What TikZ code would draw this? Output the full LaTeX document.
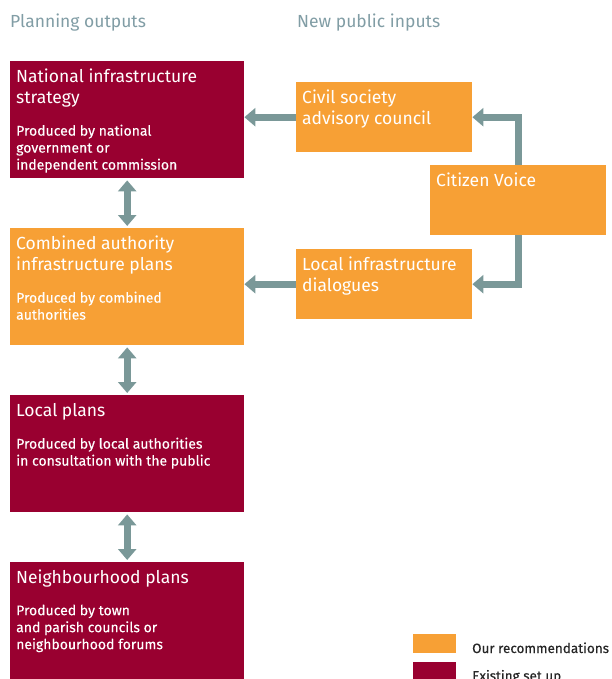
\documentclass[tikz,border=0pt]{standalone}
\usepackage{fontspec}
\setmainfont{Fira Sans}
\usepackage{xcolor}
\usetikzlibrary{arrows.meta}

\definecolor{plumred}{HTML}{990030}
\definecolor{recorange}{HTML}{F7A035}
\definecolor{linkgray}{HTML}{7A9898}
\definecolor{headgray}{HTML}{819DA5}

\tikzset{
  bigbox/.style={anchor=north west, minimum width=234pt, minimum height=117pt, inner sep=0pt},
  smallbox/.style={anchor=north west, fill=recorange, minimum width=176pt, minimum height=70pt, inner sep=0pt},
  boxtitle/.style={anchor=north west, inner sep=0pt, align=left, text=white, font=\fontsize{17.5}{20.5}\selectfont},
  boxsub/.style={anchor=north west, inner sep=0pt, align=left, text=white, font=\fontsize{14}{17}\selectfont\addfontfeature{FakeBold=0.2}},
  heading/.style={anchor=base west, inner sep=0pt, text=headgray, font=\fontsize{17.5}{20}\selectfont},
  legendtext/.style={anchor=base west, inner sep=0pt, text=black!85, font=\fontsize{13.5}{15}\selectfont\addfontfeature{FakeBold=0.3}},
  link/.style={draw=linkgray, line width=7pt, line join=miter, -{Triangle[width=18pt,length=11pt]}},
  twoway/.style={draw=linkgray, line width=7pt, {Triangle[width=18pt,length=11pt]}-{Triangle[width=18pt,length=11pt]}, shorten <=2pt, shorten >=2pt}
}

\begin{document}
\begin{tikzpicture}[x=1pt,y=-1pt]
\useasboundingbox (0,0) rectangle (612,679);

% Column headings
\node[heading] (hout) at (10,28) {Planning outputs};
\node[heading] (hin) at (297,28) {New public inputs};

% Planning outputs
\node[bigbox,fill=plumred] (nat) at (10,61) {};
\node[bigbox,fill=recorange] (comb) at (10,228) {};
\node[bigbox,fill=plumred] (local) at (10,395) {};
\node[bigbox,fill=plumred] (hood) at (10,562) {};

\node[boxtitle] (nat-t) at (16,69) {National infrastructure\\strategy};
\node[boxsub] (nat-s) at (16,124.5) {Produced by national\\government or\\independent commission};
\node[boxtitle] (comb-t) at (16,236) {Combined authority\\infrastructure plans};
\node[boxsub] (comb-s) at (16,291.5) {Produced by combined\\authorities};
\node[boxtitle] (local-t) at (16,403) {Local plans};
\node[boxsub] (local-s) at (16,437.5) {Produced by local authorities\\in consultation with the public};
\node[boxtitle] (hood-t) at (16,570) {Neighbourhood plans};
\node[boxsub] (hood-s) at (16,604.5) {Produced by town\\and parish councils or\\neighbourhood forums};

% New public inputs
\node[smallbox] (civil) at (296,82) {};
\node[smallbox] (voice) at (430,165) {};
\node[smallbox] (dial) at (296,249) {};

\node[boxtitle] (civil-t) at (302,90) {Civil society\\advisory council};
\node[boxtitle] (voice-t) at (436,173) {Citizen Voice};
\node[boxtitle] (dial-t) at (302,257) {Local infrastructure\\dialogues};

% Flows
\draw[twoway] (nat.south) -- (comb.north);
\draw[twoway] (comb.south) -- (local.north);
\draw[twoway] (local.south) -- (hood.north);
\draw[link] (civil.west) -- (civil.west -| nat.east);
\draw[link] (dial.west) -- (dial.west -| comb.east);
\draw[link] (voice.north) |- (civil.east);
\draw[link] (voice.south) |- (dial.east);

% Legend
\node[anchor=north west, fill=recorange, minimum width=43pt, minimum height=19pt, inner sep=0pt] (key-rec) at (413,634) {};
\node[anchor=north west, fill=plumred, minimum width=43pt, minimum height=19pt, inner sep=0pt] (key-old) at (413,662) {};
\node[legendtext] (key-rec-t) at (472,653) {Our recommendations};
\node[legendtext] (key-old-t) at (472,680.5) {Existing set up};
\end{tikzpicture}
\end{document}
